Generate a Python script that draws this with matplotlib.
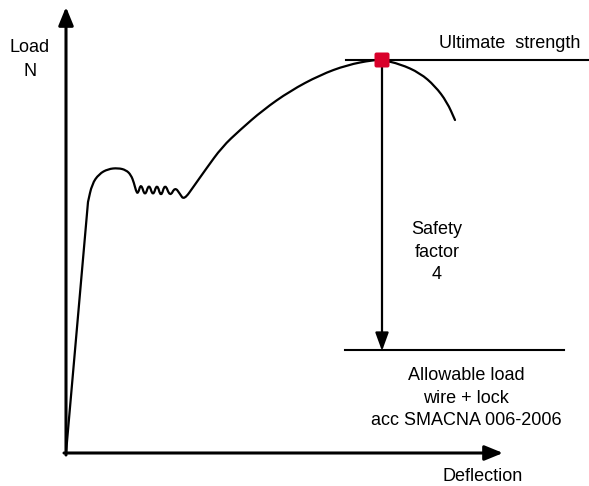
import matplotlib.pyplot as plt
from matplotlib.patches import FancyBboxPatch, PathPatch
from matplotlib.path import Path

plt.rcParams['font.family'] = ['Liberation Sans', 'DejaVu Sans']

# load-deflection curve, traced in drawing units (x right, y down);
# the points act as control points of a smooth quadratic spline
curve_x = [66, 88, 88, 92, 99, 108, 118, 126, 131, 134, 136, 138,
           141, 145, 149, 153, 157, 161, 165, 170, 175, 180, 184,
           194, 206, 222, 240, 263, 290, 320, 347, 373, 382,
           400, 420, 435, 447, 455]
curve_y = [453, 202, 202, 184, 174, 169, 168, 170, 175, 183, 191, 194,
           183, 197, 183, 197, 183, 198, 183, 197, 187, 194, 200,
           186, 169, 147, 130, 110, 91, 75, 65, 60, 60,
           64, 73, 86, 102, 120]

peak = (382, 60)
allowable_y = 350


def spline_path(xs, ys):
    pts = list(zip(xs, ys))
    verts = [pts[0]]
    codes = [Path.MOVETO]
    mid = lambda a, b: ((a[0] + b[0]) / 2, (a[1] + b[1]) / 2)
    verts.append(mid(pts[0], pts[1]))
    codes.append(Path.LINETO)
    for i in range(1, len(pts) - 1):
        verts += [pts[i], mid(pts[i], pts[i + 1])]
        codes += [Path.CURVE3, Path.CURVE3]
    verts.append(pts[-1])
    codes.append(Path.LINETO)
    return Path(verts, codes)


fig = plt.figure(figsize=(5.89, 4.86), dpi=100)
ax = fig.add_axes([0, 0, 1, 1])
ax.set_xlim(0, 589)
ax.set_ylim(486, 0)
ax.axis('off')

# axes with arrowheads
ax.annotate('', xy=(66, 7), xytext=(66, 455),
            arrowprops=dict(arrowstyle='-|>,head_length=1.1,head_width=0.45',
                            lw=2.2, color='black', shrinkA=0, shrinkB=0))
ax.annotate('', xy=(503, 453), xytext=(64, 453),
            arrowprops=dict(arrowstyle='-|>,head_length=1.1,head_width=0.45',
                            lw=2.2, color='black', shrinkA=0, shrinkB=0))

ax.add_patch(PathPatch(spline_path(curve_x, curve_y), facecolor='none',
                       edgecolor='black', lw=1.6, joinstyle='round', capstyle='round'))

# reference levels
ax.plot([346, 588], [peak[1], peak[1]], color='black', lw=1.5)
ax.plot([345, 564], [allowable_y, allowable_y], color='black', lw=1.5)

# safety factor arrow
ax.annotate('', xy=(peak[0], allowable_y + 1), xytext=(peak[0], peak[1]),
            arrowprops=dict(arrowstyle='-|>,head_length=1.1,head_width=0.4',
                            lw=1.6, color='black', shrinkA=0, shrinkB=0))

sq = 15
ax.add_patch(FancyBboxPatch((peak[0] - sq / 2 + 2, peak[1] - sq / 2 + 2), sq - 4, sq - 4,
                            boxstyle='round,pad=2', facecolor='#d9002a',
                            edgecolor='#d9002a', lw=0, zorder=5))

fs = 13
ax.text(30, 48, 'Load', ha='center', va='center', fontsize=fs)
ax.text(30, 72, 'N', ha='center', va='center', fontsize=fs)
ax.text(510, 44, 'Ultimate  strength', ha='center', va='center', fontsize=fs)
ax.text(437, 252, 'Safety\nfactor\n4', ha='center', va='center', fontsize=fs,
        linespacing=1.45)
ax.text(466, 398, 'Allowable load\nwire + lock\nacc SMACNA 006-2006', ha='center',
        va='center', fontsize=fs, linespacing=1.45)
ax.text(483, 476, 'Deflection', ha='center', va='center', fontsize=fs)

fig.savefig('out.png', dpi=100)
